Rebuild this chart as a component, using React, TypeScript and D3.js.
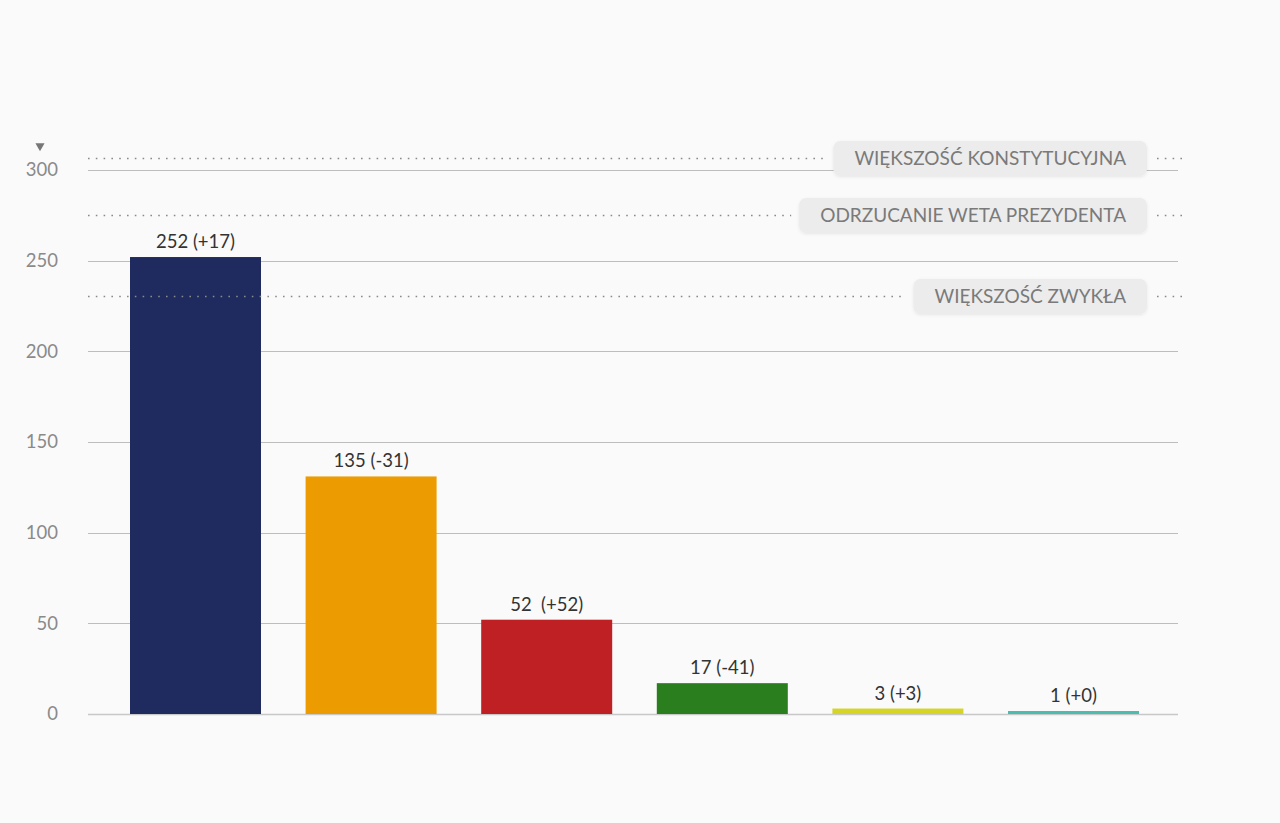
import React, { useEffect, useRef } from "react";
import * as d3 from "d3";

const parties = ["PiS", "PO", "Kukiz'15", "PSL", "Inne", "MN"];
const barValues = [252, 131, 52, 17, 3, 1];
const barLabels = ["252 (+17)", "135 (-31)", "52  (+52)", "17 (-41)", "3 (+3)", "1 (+0)"];
const barColors = ["#1f2a5e", "#ec9c00", "#bf2024", "#2a7e1e", "#d6d424", "#4cbcae"];
const yTicks = [0, 50, 100, 150, 200, 250, 300];
const thresholdValues = [307, 276, 231];
const thresholdNames = ["WIĘKSZOŚĆ KONSTYTUCYJNA", "ODRZUCANIE WETA PREZYDENTA", "WIĘKSZOŚĆ ZWYKŁA"];

const W = 1280;
const H = 823;

export default function App() {
  const ref = useRef<SVGSVGElement | null>(null);

  useEffect(() => {
    const svg = d3.select(ref.current);
    svg.selectAll("*").remove();

    const font = "Lato, 'Open Sans', sans-serif";
    const gridX0 = 88;
    const gridX1 = 1178;

    const y = d3.scaleLinear().domain([0, 300]).range([714, 170]);
    const x = d3
      .scaleBand<string>()
      .domain(parties)
      .range([107.7, 1161.3])
      .paddingInner(0.254)
      .paddingOuter(0.127);

    svg.append("rect").attr("width", W).attr("height", H).attr("fill", "#fafafa");

    const defs = svg.append("defs");
    const f = defs.append("filter").attr("id", "sh").attr("x", "-10%").attr("y", "-30%").attr("width", "120%").attr("height", "160%");
    f.append("feDropShadow").attr("dx", 0).attr("dy", 1).attr("stdDeviation", 1.5).attr("flood-color", "#000").attr("flood-opacity", 0.08);

    // gridlines
    svg
      .append("g")
      .selectAll("line")
      .data(yTicks)
      .join("line")
      .attr("x1", gridX0)
      .attr("x2", gridX1)
      .attr("y1", (d) => Math.round(y(d)) + 0.5)
      .attr("y2", (d) => Math.round(y(d)) + 0.5)
      .attr("stroke", (d) => (d === 0 ? "#c8c8c8" : "#bdbdbd"))
      .attr("stroke-width", (d) => (d === 0 ? 1.5 : 1));

    // tick labels
    svg
      .append("g")
      .selectAll("text")
      .data(yTicks)
      .join("text")
      .attr("x", 58)
      .attr("y", (d) => y(d))
      .attr("dy", "0.35em")
      .attr("text-anchor", "end")
      .attr("font-family", font)
      .attr("font-size", 18.5)
      .attr("fill", "#8a8a8a")
      .text((d) => String(d));

    // small triangle marker
    svg
      .append("path")
      .attr("d", d3.symbol().type(d3.symbolTriangle).size(36)())
      .attr("transform", "translate(40,146) rotate(180)")
      .attr("fill", "#777");

    // bars
    svg
      .append("g")
      .selectAll("rect")
      .data(parties)
      .join("rect")
      .attr("x", (d) => x(d)!)
      .attr("width", x.bandwidth())
      .attr("y", (d, i) => Math.min(y(barValues[i]), y(0) - 3))
      .attr("height", (d, i) => Math.max(3, y(0) - y(barValues[i])))
      .attr("fill", (d, i) => barColors[i]);

    // bar labels
    svg
      .append("g")
      .selectAll("text")
      .data(parties)
      .join("text")
      .attr("x", (d) => x(d)! + x.bandwidth() / 2)
      .attr("y", (d, i) => Math.min(y(barValues[i]), y(0) - 3) - 9)
      .attr("text-anchor", "middle")
      .attr("font-family", font)
      .attr("font-size", 18.5)
      .attr("fill", "#333")
      .style("white-space", "pre")
      .text((d, i) => barLabels[i]);

    // thresholds
    const boxRight = 1147;
    const padX = 21;
    const tg = svg.append("g");
    thresholdValues.forEach((v, i) => {
      const yy = Math.round(y(v)) + 1.5;
      const g = tg.append("g");
      const t = g
        .append("text")
        .attr("x", boxRight - padX)
        .attr("y", yy)
        .attr("dy", "0.35em")
        .attr("text-anchor", "end")
        .attr("font-family", font)
        .attr("font-size", 19)
        .attr("fill", "#7a7a7a")
        .text(thresholdNames[i]);
      const tw = (t.node() as SVGTextElement).getComputedTextLength();
      const bx = boxRight - padX * 2 - tw;
      g.insert("rect", "text")
        .attr("x", bx)
        .attr("y", yy - 17.5)
        .attr("width", boxRight - bx)
        .attr("height", 35)
        .attr("rx", 7)
        .attr("fill", "#ececec")
        .attr("filter", "url(#sh)");
      const dot = (a: number, b: number) =>
        g.insert("line", "rect")
          .attr("x1", a)
          .attr("x2", b)
          .attr("y1", yy)
          .attr("y2", yy)
          .attr("stroke", "#8a8a8a")
          .attr("stroke-width", 1.6)
          .attr("stroke-dasharray", "1.6 6.2");
      dot(gridX0, bx - 8);
      dot(boxRight + 10, 1182);
    });
  }, []);

  return (
    <div style={{ position: "fixed", left: 0, top: 0, width: W, height: H }}>
      <svg ref={ref} width={W} height={H} style={{ display: "block" }} />
    </div>
  );
}
